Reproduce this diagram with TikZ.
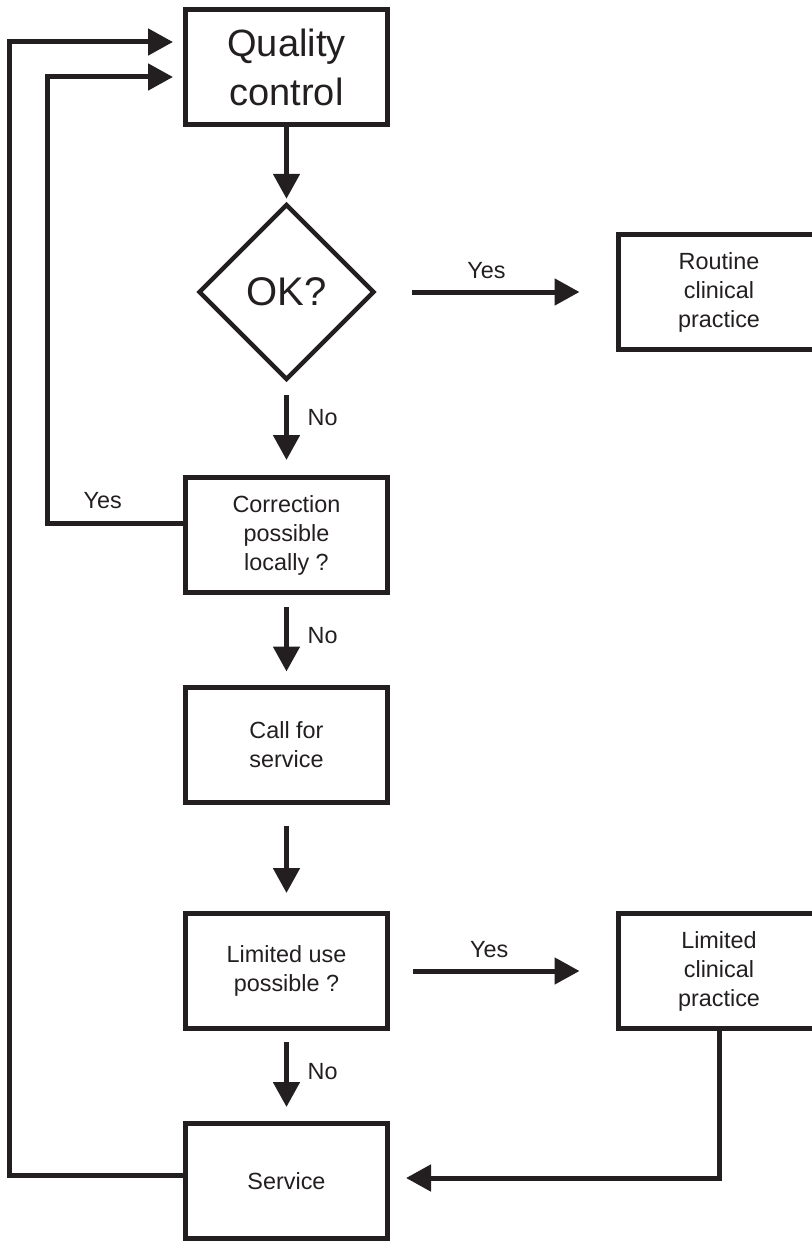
\documentclass[tikz,border=0pt]{standalone}
\usepackage{fontspec}
\setmainfont{Liberation Sans}
\usetikzlibrary{shapes.geometric,arrows.meta}
\definecolor{ink}{RGB}{35,31,32}
\tikzset{
  box/.style={draw=ink, line width=2.5pt, minimum width=101pt, minimum height=57.5pt,
    inner sep=0pt, align=center, text=ink, font=\fontsize{11.7}{14.5}\selectfont},
  flow/.style={draw=ink, line width=2.5pt, -{Triangle[length=12.5pt,width=13pt]}},
  lbl/.style={text=ink, font=\fontsize{11.7}{14.5}\selectfont},
}
\begin{document}
\begin{tikzpicture}[x=0.5pt, y=-0.5pt]
    \useasboundingbox (0,0) rectangle (811,1241);

    % main column
    \node[box, font=\fontsize{19}{24.5}\selectfont] (qc) at (286.5, 67.5) {Quality\\control};
    \node[diamond, aspect=1, draw=ink, line width=2.2pt, minimum width=88pt, minimum height=88pt,
          inner sep=0pt, text=ink, font=\fontsize{20}{24}\selectfont] (ok) at (286.5, 292) {OK?};
    \node[box] (corr) at (286.5, 535) {Correction\\possible\\locally ?};
    \node[box] (call) at (286.5, 744.5) {Call for\\service};
    \node[box] (lim) at (286.5, 971) {Limited use\\possible ?};
    \node[box] (serv) at (286.5, 1181) {Service};

    % right column
    \node[box] (rcp) at (719, 292) {Routine\\clinical\\practice};
    \node[box] (lcp) at (719, 971) {Limited\\clinical\\practice};

    % downward arrows
    \draw[flow, shorten >=1.5pt] (qc) -- (ok);
    \draw[flow, shorten <=6.5pt, shorten >=7.5pt] (ok) -- node[lbl, right=6pt, pos=0.38] {No} (corr);
    \draw[flow, shorten <=6pt, shorten >=6.5pt] (corr) -- node[lbl, right=6pt, pos=0.45] {No} (call);
    \draw[flow, shorten <=10.5pt, shorten >=9pt] (call) -- (lim);
    \draw[flow, shorten <=5.5pt, shorten >=7pt] (lim) -- node[lbl, right=6pt, pos=0.45] {No} (serv);

    % yes branches
    \draw[flow, shorten <=17.5pt, shorten >=18pt] (ok) -- node[lbl, above=2.3pt, pos=0.46] {Yes} (rcp);
    \draw[flow, shorten <=11.5pt, shorten >=18pt] (lim) -- node[lbl, above=2.3pt, pos=0.44] {Yes} (lcp);

    % feedback loops
    \draw[flow, shorten >=5pt] ([yshift=6pt]corr.west) -- node[lbl, above=2.8pt, pos=0.59] {Yes} ++(-136,0)
        |- ([yshift=-4.75pt]qc.west);
    \draw[flow, shorten >=5pt] ([yshift=3pt]serv.west) -- ++(-174,0) |- ([yshift=12.75pt]qc.west);
    \draw[flow, shorten >=8pt] (lcp.south) |- ([yshift=1.5pt]serv.east);
\end{tikzpicture}
\end{document}
